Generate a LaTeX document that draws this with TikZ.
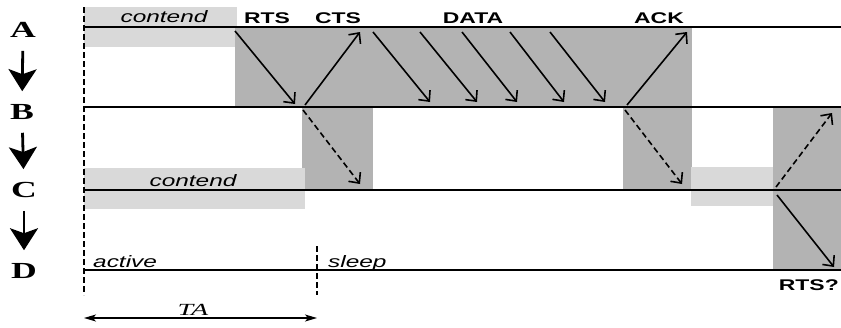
\documentclass[tikz,border=0pt]{standalone}
\usepackage{fontspec}
\setsansfont[FakeStretch=1.48]{Liberation Sans}
\newfontfamily\rowfont[FakeStretch=1.55]{Liberation Serif}
\newfontfamily\spanfont[FakeStretch=1.65]{Liberation Serif}
\usetikzlibrary{arrows.meta}

\definecolor{busygray}{RGB}{179,179,179}
\definecolor{waitgray}{RGB}{217,217,217}

\tikzset{
  rowlabel/.style={inner sep=0pt, font=\rowfont\bfseries\fontsize{23}{24}\selectfont},
  downarrow/.style={line width=2.8pt, shorten <=13pt, shorten >=13pt,
    -{Stealth[length=22pt,width=28pt,inset=5pt]}},
  timeline/.style={line width=2.1pt},
  marker/.style={line width=2.2pt, dash pattern=on 6pt off 3pt},
  msg/.style={line width=1.6pt, -{Straight Barb[length=8pt,width=15pt,line width=1.6pt]}},
  overheard/.style={msg, dash pattern=on 6pt off 3.5pt},
  pkt/.style={inner sep=0pt, anchor=base, font=\sffamily\bfseries\fontsize{15.5}{17}\selectfont},
  state/.style={inner sep=0pt, anchor=base, font=\sffamily\itshape\fontsize{16.5}{18}\selectfont},
}

\begin{document}
\begin{tikzpicture}[x=1pt,y=-1pt]
\useasboundingbox (0,0) rectangle (841,327);

% contention and busy periods
\fill[waitgray] (84,7) rectangle (237,47);
\fill[busygray] (235,27) rectangle (692,107);
\fill[busygray] (302,107) rectangle (373,190);
\fill[busygray] (623,107) rectangle (692,190);
\fill[waitgray] (84,168) rectangle (305,209);
\fill[waitgray] (691,167) rectangle (773,206);
\fill[busygray] (773,107) rectangle (841,270);

% nodes and their time lines
\node[rowlabel] (A) at (23,30) {A};
\node[rowlabel] (B) at (22,112) {B};
\node[rowlabel] (C) at (24,190) {C};
\node[rowlabel] (D) at (24,271) {D};
\draw[downarrow] (A) -- (B);
\draw[downarrow] (B) -- (C);
\draw[downarrow] (C) -- (D);

\draw[timeline] (84,27) -- (841,27);
\draw[timeline] (84,107) -- (841,107);
\draw[timeline] (84,190) -- (841,190);
\draw[timeline] (84,270) -- (841,270);

\draw[marker] (84,7) -- (84,295);
\draw[marker] (317,246) -- (317,295);

% labels
\node[state] (contA) at (164,22) {contend};
\node[pkt] (rts) at (267,23) {RTS};
\node[pkt] (cts) at (338,23) {CTS};
\node[pkt] (data) at (473,23) {DATA};
\node[pkt] (ack) at (659,23) {ACK};
\node[state] (contC) at (193,186) {contend};
\node[state, anchor=base west] (active) at (93,267) {active};
\node[state, anchor=base west] (sleep) at (328,267) {sleep};
\node[pkt, anchor=base east] (rtsq) at (839,290) {RTS?};

% exchange between A and B
\draw[msg] (235,31) -- (295,104);
\draw[msg] (305,105) -- (360,32);
\foreach \s/\e in {373/430, 420/477, 462/517, 510/564, 550/605}
  \draw[msg] (\s,32) -- (\e,102);
\draw[msg] (627,105) -- (687,32);

% overheard by C
\draw[overheard] (303,110) -- (360,184);
\draw[overheard] (625,110) -- (682,184);
\draw[overheard] (776,187) -- (832,113);
\draw[msg] (777,195) -- (834,267);

% active period
\node[font=\spanfont\itshape\fontsize{17}{18}\selectfont, inner sep=0pt, anchor=base] (ta) at (193,315) {TA};
\draw[line width=1.3pt, {Stealth[length=12pt,width=7pt,inset=3pt]}-{Stealth[length=12pt,width=7pt,inset=3pt]}]
  (84,318) -- (317,318);
\end{tikzpicture}
\end{document}
